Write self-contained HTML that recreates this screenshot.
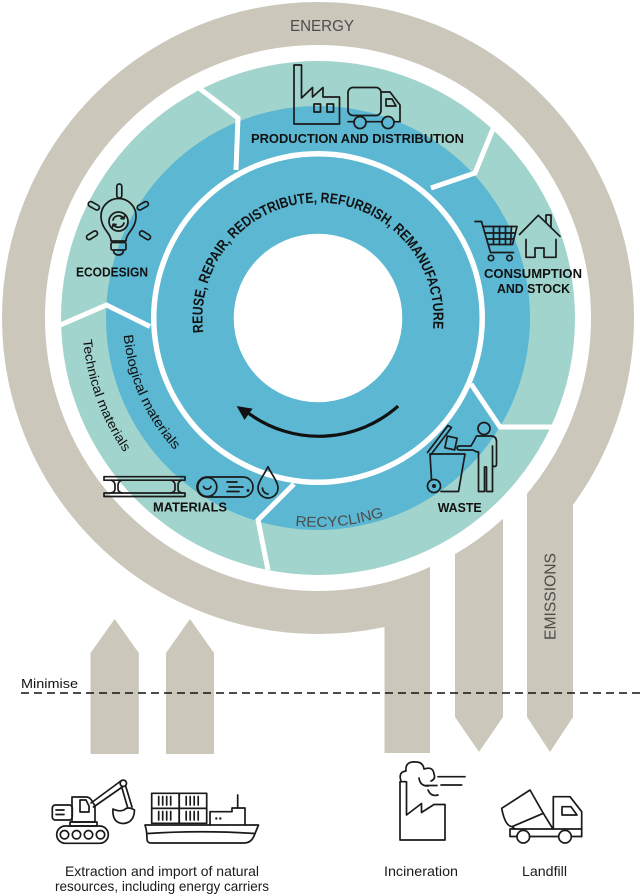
<!DOCTYPE html>
<html>
<head>
<meta charset="utf-8">
<style>
html,body{margin:0;padding:0;background:#fff;}
svg{display:block;}
text{font-family:"Liberation Sans",sans-serif;}
</style>
</head>
<body>
<svg width="640" height="896" viewBox="0 0 640 896" xmlns="http://www.w3.org/2000/svg">
<rect width="640" height="896" fill="#fff"/>
<defs>
  <path id="pReuse" d="M203.4,332.5 A115.5,115.5 0 1 1 432.8,330.7"/>
  <path id="pRecy" d="M295.1,525.7 A209,209 0 0 0 386,515.6"/>
  <path id="pTech" d="M83,339.8 A236,236 0 0 0 125.2,454"/>
  <path id="pBio" d="M123.7,335 A195,195 0 0 0 176.1,451.7"/>
</defs>

<!-- grey energy ring and bars -->
<circle cx="318" cy="318" r="294.5" fill="none" stroke="#cbc7bb" stroke-width="43"/>
<g fill="#cbc7bb">
  <rect x="384.5" y="600" width="45.5" height="153"/>
  <polygon points="455,560 503,560 503,717 479,752 455,717"/>
  <polygon points="527,500 573,500 573,717 550,752 527,717"/>
  <polygon points="90.5,653 114.7,619 138.8,653 138.8,754 90.5,754"/>
  <polygon points="166,653 190,619 214,653 214,754 166,754"/>
</g>
<rect x="430" y="480" width="25" height="300" fill="#fff"/>
<rect x="503" y="470" width="24" height="300" fill="#fff"/>

<!-- teal / blue rings -->
<circle cx="318" cy="318" r="257" fill="#a1d4cc"/>
<circle cx="318" cy="318" r="212" fill="#5bb7d2"/>
<circle cx="318" cy="318" r="167" fill="#fff"/>
<circle cx="318" cy="318" r="161.5" fill="#5bb7d2"/>
<circle cx="318" cy="318" r="84.3" fill="#fff"/>

<!-- dividers -->
<g fill="none" stroke="#fff" stroke-width="5" stroke-linejoin="miter">
  <polyline points="199,88 238,118 236,170"/>
  <polyline points="495,124 475,173 431,188"/>
  <polyline points="471,384 500,427 556,427"/>
  <polyline points="294,484 258,520 268,570"/>
  <polyline points="150,326.5 106.5,305 58,326"/>
</g>

<!-- curved arrow -->
<path d="M398.1,406.1 A119,119 0 0 1 249,413.6" fill="none" stroke="#111" stroke-width="3.2"/>
<polygon points="236.7,406.1 244.5,419.9 252.6,408.6" fill="#111"/>

<!-- texts -->
<text x="322" y="31" font-size="15.5" fill="#4d4d4d" text-anchor="middle" textLength="64" lengthAdjust="spacingAndGlyphs">ENERGY</text>
<text x="357.5" y="143" font-size="13" font-weight="bold" fill="#111" text-anchor="middle" textLength="213" lengthAdjust="spacingAndGlyphs">PRODUCTION AND DISTRIBUTION</text>
<text x="112" y="276.5" font-size="13" font-weight="bold" fill="#111" text-anchor="middle" textLength="72" lengthAdjust="spacingAndGlyphs">ECODESIGN</text>
<text x="533" y="278" font-size="13" font-weight="bold" fill="#111" text-anchor="middle" textLength="98" lengthAdjust="spacingAndGlyphs">CONSUMPTION</text>
<text x="533.5" y="293" font-size="13" font-weight="bold" fill="#111" text-anchor="middle" textLength="73" lengthAdjust="spacingAndGlyphs">AND STOCK</text>
<text x="190" y="511.7" font-size="13" font-weight="bold" fill="#111" text-anchor="middle" textLength="74" lengthAdjust="spacingAndGlyphs">MATERIALS</text>
<text x="459.7" y="512" font-size="13" font-weight="bold" fill="#111" text-anchor="middle" textLength="44" lengthAdjust="spacingAndGlyphs">WASTE</text>

<text font-size="14.5" font-weight="bold" fill="#111"><textPath href="#pReuse" textLength="388" lengthAdjust="spacingAndGlyphs">REUSE, REPAIR, REDISTRIBUTE, REFURBISH, REMANUFACTURE</textPath></text>
<text font-size="14.5" fill="#4d4d4d"><textPath href="#pRecy" textLength="90" lengthAdjust="spacingAndGlyphs">RECYCLING</textPath></text>
<text font-size="13" fill="#111"><textPath href="#pTech" textLength="121" lengthAdjust="spacingAndGlyphs">Technical materials</textPath></text>
<text font-size="13.5" fill="#111"><textPath href="#pBio" textLength="128" lengthAdjust="spacingAndGlyphs">Biological materials</textPath></text>

<text transform="translate(555.5,596.5) rotate(-90)" font-size="15.5" fill="#4d4d4d" text-anchor="middle" textLength="87" lengthAdjust="spacingAndGlyphs">EMISSIONS</text>

<text x="21" y="688" font-size="13" fill="#111" textLength="57" lengthAdjust="spacingAndGlyphs">Minimise</text>
<line x1="21" y1="693" x2="640" y2="693" stroke="#111" stroke-width="1.6" stroke-dasharray="8 5"/>

<text x="162" y="876" font-size="14" fill="#1a1a1a" text-anchor="middle" textLength="194" lengthAdjust="spacingAndGlyphs">Extraction and import of natural</text>
<text x="162" y="891" font-size="14" fill="#1a1a1a" text-anchor="middle" textLength="214" lengthAdjust="spacingAndGlyphs">resources, including energy carriers</text>
<text x="421" y="876" font-size="14" fill="#1a1a1a" text-anchor="middle" textLength="74" lengthAdjust="spacingAndGlyphs">Incineration</text>
<text x="544.5" y="876" font-size="14" fill="#1a1a1a" text-anchor="middle" textLength="45" lengthAdjust="spacingAndGlyphs">Landfill</text>

<!-- ICONS -->
<g fill="none" stroke="#1a1a1a" stroke-width="1.7" stroke-linejoin="round" stroke-linecap="round">
  <!-- factory -->
  <path d="M294,124 V65 H301.5 V98 L312.5,87.5 V97 L323,87.5 V97 H339.5 V124 Z"/>
  <rect x="314" y="104" width="6.5" height="8"/>
  <rect x="327" y="104" width="6.5" height="8"/>
  <!-- truck -->
  <rect x="348" y="87.5" width="33" height="28" rx="5"/>
  <path d="M381,92 H390 L400,105 V121.7"/>
  <path d="M386,99 H392 L396,106 H386 Z"/>
  <path d="M348,121.7 H354 M366,121.7 H382 M394,121.7 H400"/>
  <circle cx="360" cy="122.5" r="6"/>
  <circle cx="388" cy="122.5" r="6"/>

  <!-- bulb -->
  <path d="M111,241 C111,233 101,229 101,216 A17.5,17.5 0 0 1 136,216 C136,229 126,233 126,241 Z"/>
  <rect x="111" y="242.5" width="15" height="7.5" rx="1.5"/>
  <path d="M113.5,250.5 Q114,255 118.5,255 Q123,255 123.5,250.5"/>
  <circle cx="118.5" cy="221.5" r="9.5"/>
  <path d="M113,220 A5.8,5.8 0 0 1 123.5,218.5"/>
  <path d="M121,218.5 L123.8,218.8 L124.6,216"/>
  <path d="M124,223 A5.8,5.8 0 0 1 113.5,224.5"/>
  <path d="M116,224.5 L113.2,224.2 L112.4,227"/>
  <rect x="116.8" y="184" width="5" height="14" rx="2.5"/>
  <rect x="-6" y="-2.5" width="12" height="5" rx="2.5" transform="translate(93.8,205.8) rotate(29)"/>
  <rect x="-6" y="-2.5" width="12" height="5" rx="2.5" transform="translate(142.8,205.8) rotate(-29)"/>
  <rect x="-6" y="-2.5" width="12" height="5" rx="2.5" transform="translate(92,235.3) rotate(-32)"/>
  <rect x="-6" y="-2.5" width="12" height="5" rx="2.5" transform="translate(145,235.3) rotate(32)"/>

  <!-- cart -->
  <path d="M475,221.5 H481.5 L490.5,252.5 H513.5"/>
  <path d="M484,226.5 H517 L512.5,244.5 H488.8"/>
  <path d="M493.5,226.5 V244.5 M499.5,226.5 V244.5 M505.5,226.5 V244.5 M511.5,226.5 L510.5,244.5 M485.8,233 H515.3 M487.6,239 H513.8"/>
  <circle cx="491" cy="258" r="2.7"/>
  <circle cx="509.5" cy="258" r="2.7"/>
  <!-- house -->
  <path d="M519.5,234.5 L538.3,215.3 L560,236.3"/>
  <path d="M546,222.6 V215 H551 V227.6"/>
  <path d="M526,239.5 V257.3 H535 V248 H544 V257.3 H556 V239.5"/>

  <!-- bin -->
  <path d="M430,454 H465 L458.5,491.5 H441"/>
  <path d="M430,454 L431.5,479.5"/>
  <circle cx="434" cy="486" r="6.5"/>
  <path d="M427.5,452.5 L448,425.5 L451.5,427.5 L431,454.5"/>
  <rect x="-5" y="-6" width="10" height="12" transform="translate(451,443) rotate(12)"/>
  <!-- person -->
  <circle cx="484" cy="428.5" r="6"/>
  <path d="M477,436 H491 Q496.5,436 496.5,442 V464 Q496.5,466.5 494.5,466.5 Q492.5,466.5 492.5,464 V446 V491.5 H486.5 V467 H484.5 V491.5 H478.5 V452 Q476,452 473,450 L460,450 Q457,450 457,448 Q457,446 460,446 H471 L475,439 Q476,436 477,436 Z"/>

  <!-- I-beam -->
  <rect x="104" y="476.7" width="81" height="3.5"/>
  <rect x="104" y="493" width="81" height="3.5"/>
  <path d="M111,480.2 Q115,481.5 115,485 V489 Q115,492 111,493 M122,480.2 Q118,481.5 118,485 V489 Q118,492 122,493"/>
  <path d="M171,480.2 Q175,481.5 175,485 V489 Q175,492 171,493 M182,480.2 Q178,481.5 178,485 V489 Q178,492 182,493"/>
  <!-- log -->
  <rect x="197" y="477" width="56" height="20" rx="10"/>
  <circle cx="207.3" cy="487" r="9.5"/>
  <path d="M203.5,486.5 A4,4 0 0 0 211,486.5"/>
  <path d="M227,482 H237 M229,487 H243 M227,491.5 H239"/>
  <circle cx="248" cy="490.5" r="0.6"/>
  <!-- drop -->
  <path d="M268,466.7 C264,475 258,482 258,488 A10,10 0 0 0 278,488 C278,482 272,475 268,466.7 Z"/>
  <path d="M262.5,488 A6,6 0 0 0 268,494"/>

  <!-- excavator -->
  <rect x="56.7" y="826" width="51.6" height="17.3" rx="8.6"/>
  <circle cx="64.5" cy="834.7" r="4.2"/>
  <circle cx="76.5" cy="834.7" r="4.2"/>
  <circle cx="88.5" cy="834.7" r="4.2"/>
  <circle cx="100.5" cy="834.7" r="4.2"/>
  <rect x="70" y="822" width="27" height="4"/>
  <path d="M72,822 V797 H86 Q90,797 92,801 L95,806 V822 Z"/>
  <path d="M80,800 H86 L89,806 V812 H80 Z"/>
  <rect x="52.3" y="805" width="20" height="15" rx="3"/>
  <path d="M56,810 H64 M56,814.5 H64"/>
  <path d="M91,803 L121.5,780.5 M93.5,807 L123,786.5"/>
  <circle cx="123.3" cy="783.3" r="3.2"/>
  <path d="M125.5,785.5 L132,807 M121.5,786.5 L127.5,807"/>
  <path d="M113,809 Q112,823 123,823.5 Q134,823 134.5,810 Q128,806 124,810 Q119,812 113,809 Z"/>

  <!-- ship -->
  <rect x="151.7" y="793.3" width="27.5" height="15"/>
  <rect x="179.2" y="793.3" width="27.5" height="15"/>
  <rect x="151.7" y="808.3" width="27.5" height="15"/>
  <rect x="179.2" y="808.3" width="27.5" height="15"/>
  <path d="M158.7,796.5 V805 M162.7,796.5 V805 M166.7,796.5 V805 M170.7,796.5 V805 M186.2,796.5 V805 M190.2,796.5 V805 M194.2,796.5 V805 M198.2,796.5 V805 M158.7,811.5 V820 M162.7,811.5 V820 M166.7,811.5 V820 M170.7,811.5 V820 M186.2,811.5 V820 M190.2,811.5 V820 M194.2,811.5 V820 M198.2,811.5 V820"/>
  <path d="M145,825 H258.5 L254,836 Q251,843 244,843 H151 Q147,843 147,839 Q147,831 145,825 Z"/>
  <path d="M148,833.5 Q200,830 255,833.5"/>
  <path d="M210,825 V811.7 H232 V808 H245 V825"/>
  <path d="M237.7,795 V808"/>

  <!-- incinerator -->
  <path d="M400,840 V781.7 H406.5 V815 L421.5,803.5 V812.5 L434,804.5 H445 V840 Z"/>
  <path d="M401,781 Q398,772 406,771 Q405,761 416,762 Q423,762 424,769 Q433,766 434,774 Q436,779 431,781"/>
  <path d="M438,776.7 H465 M441,785 H461.7"/>
  <path d="M419,778 Q420,786 428,786 M428,790 Q431,797 438,795 M426,785.5 H437"/>

  <!-- dump truck -->
  <path d="M501.7,808.3 L530,790 L543.3,813.3 L512,826.7 Q505,826 501.7,808.3 Z"/>
  <path d="M543.3,813.3 L553,829 M512,826.7 L515,829"/>
  <path d="M553.3,829 V796.7 H570 L581.7,811.7 V836.5"/>
  <path d="M562,806.7 H571 L577,815 H562 Z"/>
  <path d="M510,829 H581.7 M510,829 V836.5 H517 M529.5,836.5 H558.5 M571.5,836.5 H581.7"/>
  <circle cx="523.3" cy="836.7" r="6.3"/>
  <circle cx="565" cy="836.7" r="6.3"/>
</g>
<g fill="#1a1a1a">
  <circle cx="434" cy="486" r="2"/>
  <circle cx="216.3" cy="818.5" r="1.2"/>
  <circle cx="220.3" cy="818.5" r="1.2"/>
</g>
</svg>
</body>
</html>
